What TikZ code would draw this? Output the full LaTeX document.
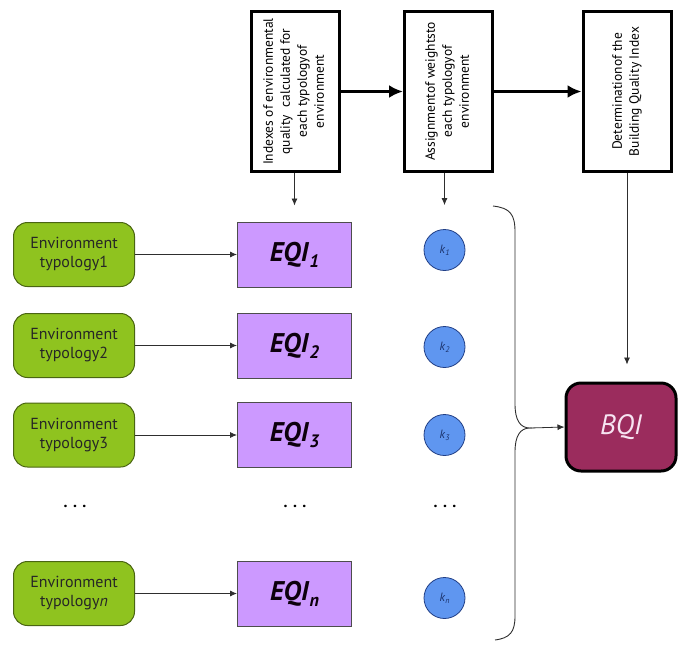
\documentclass[tikz,border=0pt]{standalone}
\usepackage{fontspec}
\setmainfont{PT Sans}
\usetikzlibrary{arrows.meta,calc,positioning}
\definecolor{envFill}  {HTML}{8FC31F}
\definecolor{envEdge}  {HTML}{4A6512}
\definecolor{eqiFill}  {HTML}{CC99FF}
\definecolor{eqiEdge}  {HTML}{4D4D4D}
\definecolor{kFill}    {HTML}{5F96F0}
\definecolor{kEdge}    {HTML}{213F86}
\definecolor{bqiFill}  {HTML}{9B2C5D}
\definecolor{bqiText}  {HTML}{F7E4F2}
\definecolor{lineGray} {HTML}{2E2E2E}

\newcommand{\eqisub}[1]{\textit{EQI}\raisebox{-0.45ex}{\fontsize{18}{18}\selectfont\itshape #1}}
\newcommand{\ksub}[1]{\textit{k}\raisebox{-0.3ex}{\fontsize{8}{8}\selectfont\itshape #1}}

\begin{document}
\begin{tikzpicture}[x=1pt, y=-1pt,
        every node/.style={font=\fontsize{14}{16}\selectfont},
        stepbox/.style={draw=black, line width=3pt, fill=white, minimum width=88pt, minimum height=160pt, inner sep=0pt, font=\fontsize{13.5}{17}\selectfont},
        envbox/.style={draw=envEdge, line width=1pt, rounded corners=14pt, fill=envFill, minimum width=121pt, minimum height=64pt, align=center, text=black!85, font=\fontsize{16}{19}\selectfont},
        eqibox/.style={draw=eqiEdge, line width=1pt, fill=eqiFill, minimum width=114pt, minimum height=65pt, font=\fontsize{27}{30}\selectfont\bfseries, text=black!90!violet},
        weight/.style={circle, draw=kEdge, line width=0.8pt, fill=kFill, minimum size=41pt, inner sep=0pt, font=\fontsize{12}{12}\selectfont, text=kEdge!80!black},
        bqibox/.style={draw=black, line width=3pt, rounded corners=15pt, fill=bqiFill, minimum width=110pt, minimum height=88pt, font=\fontsize{28}{30}\selectfont\itshape, text=bqiText},
        dotsnode/.style={font=\fontsize{16}{16}\selectfont\bfseries},
        ar/.style={-{Latex[length=7pt,width=6pt]}, line width=0.8pt, lineGray},
        bigar/.style={-{Latex[length=14pt,width=13pt]}, line width=3.5pt, black}
    ]
    \useasboundingbox (0,0) rectangle (679,648);

    % process steps along the top
    \node[stepbox] (idx) at (295,91.5) {\rotatebox{90}{\begin{tabular}{@{}c@{}}Indexes of environmental\\quality\ \ calculated for\\each typologyof\\environment\end{tabular}}};
    \node[stepbox] (wgt) at (448.5,91.5) {\rotatebox{90}{\begin{tabular}{@{}c@{}}Assignmentof weightsto\\each typologyof\\environment\end{tabular}}};
    \node[stepbox] (det) at (627,91.5) {\rotatebox{90}{\begin{tabular}{@{}c@{}}Determinationof the\\Building Quality Index\end{tabular}}};
    \draw[bigar] (idx) -- (wgt);
    \draw[bigar] (wgt) -- (det);

    % typologies
    \node[envbox] (env1) at (74,254.5) {Environment\\typology1};
    \node[envbox] (env2) at (74,345.5) {Environment\\typology2};
    \node[envbox] (env3) at (74,435) {Environment\\typology3};
    \node[envbox] (envn) at (74,593.5) {Environment\\typology\textit{n}};

    % environmental quality indexes
    \node[eqibox] (eqi1) at (294.5,254.5) {\eqisub{1}};
    \node[eqibox] (eqi2) at (294.5,345.5) {\eqisub{2}};
    \node[eqibox] (eqi3) at (294.5,435) {\eqisub{3}};
    \node[eqibox] (eqin) at (294.5,593.5) {\eqisub{n}};

    % weights
    \node[weight] (k1) at (444.5,250) {\ksub{1}};
    \node[weight] (k2) at (444.5,347) {\ksub{2}};
    \node[weight] (k3) at (444.5,435) {\ksub{3}};
    \node[weight] (kn) at (444.5,598) {\ksub{n}};

    \node[dotsnode] (dots1) at (75,506) {. . .};
    \node[dotsnode] (dots2) at (295,506) {. . .};
    \node[dotsnode] (dots3) at (445,506) {. . .};

    \node[bqibox] (bqi) at (621,427) {BQI};

    \draw[ar] (env1) -- (eqi1);
    \draw[ar] (env2) -- (eqi2);
    \draw[ar] (env3) -- (eqi3);
    \draw[ar] (envn) -- (eqin);

    \draw[ar] (idx.south -| eqi1.north) -- ([yshift=16pt]eqi1.north);
    \draw[ar] (wgt.south -| k1.north) -- ([yshift=24pt]k1.north);
    \draw[ar] (det.south) -- ([yshift=17pt]det.south |- bqi.north);

    % brace collecting the weighted indexes
    \coordinate (join) at (530,428);
    \draw[lineGray, line width=0.9pt]
        (493,206) .. controls (510,208) and (515,214) .. (515,232)
        -- (515,404) .. controls (515,420) and (520,428) .. (join)
        .. controls (520,428) and (515,436) .. (515,452)
        -- (515,616) .. controls (515,632) and (510,638) .. (495,640);
    \draw[ar] (join) -- (bqi.west);
\end{tikzpicture}
\end{document}
